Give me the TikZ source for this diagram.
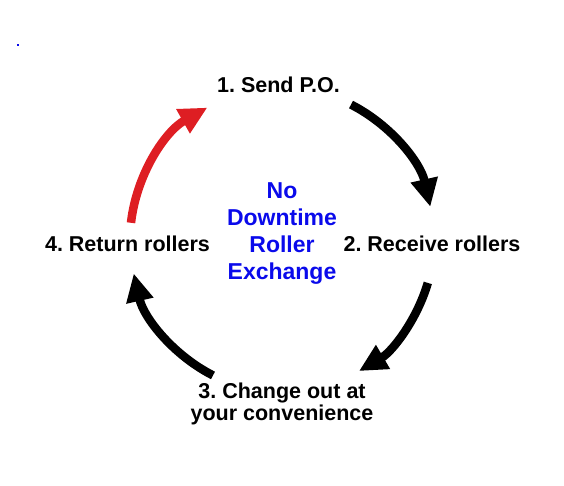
\documentclass[tikz,border=0pt]{standalone}
\usepackage{fontspec}
\setmainfont{Liberation Sans}
\usetikzlibrary{arrows.meta}
\definecolor{hubblue}{RGB}{10,10,235}
\definecolor{backred}{RGB}{222,30,35}
\frenchspacing
\begin{document}
\begin{tikzpicture}[x=1pt,y=1pt,line cap=butt,
	>={Triangle[length=28pt,width=26pt]},
	font=\bfseries\fontsize{21.5}{19}\selectfont,
	steplabel/.style={inner sep=0pt},
	cyclearrow/.style={->,line width=8.5pt}]
	\useasboundingbox (0,0) rectangle (564,486);
	\def\r{152pt}
	\coordinate (O) at (282,246);
	% the four steps
	\node[steplabel,anchor=base] (send) at (278.5,393) {1. Send P.O.};
	\node[steplabel,anchor=base] (receive) at (432,234) {2. Receive rollers};
	\node[steplabel,align=center] (change) at (282,82) {3. Change out at\\your convenience};
	\node[steplabel,anchor=base] (return) at (127.5,234) {4. Return rollers};
	\node[steplabel,align=center,text=hubblue,
		font=\bfseries\fontsize{23}{27}\selectfont] (hub) at (282,252)
		{No\\Downtime\\Roller\\Exchange};
	\fill[hubblue] (17,440) rectangle (19,442);
	% arcs round the hub
	\path (O) ++(63:\r) coordinate (a1)
		(O) ++(-16.4:\r) coordinate (a2)
		(O) ++(243:\r) coordinate (a3)
		(O) ++(173.5:\r) coordinate (a4);
	\draw[cyclearrow] (a1) arc[start angle=63,end angle=12.6,radius=\r];
	\draw[cyclearrow] (a2) arc[start angle=-16.4,end angle=-59.6,radius=\r];
	\draw[cyclearrow] (a3) arc[start angle=243,end angle=192.7,radius=\r];
	\draw[cyclearrow,backred] (a4) arc[start angle=173.5,end angle=119.4,radius=\r];
\end{tikzpicture}
\end{document}
